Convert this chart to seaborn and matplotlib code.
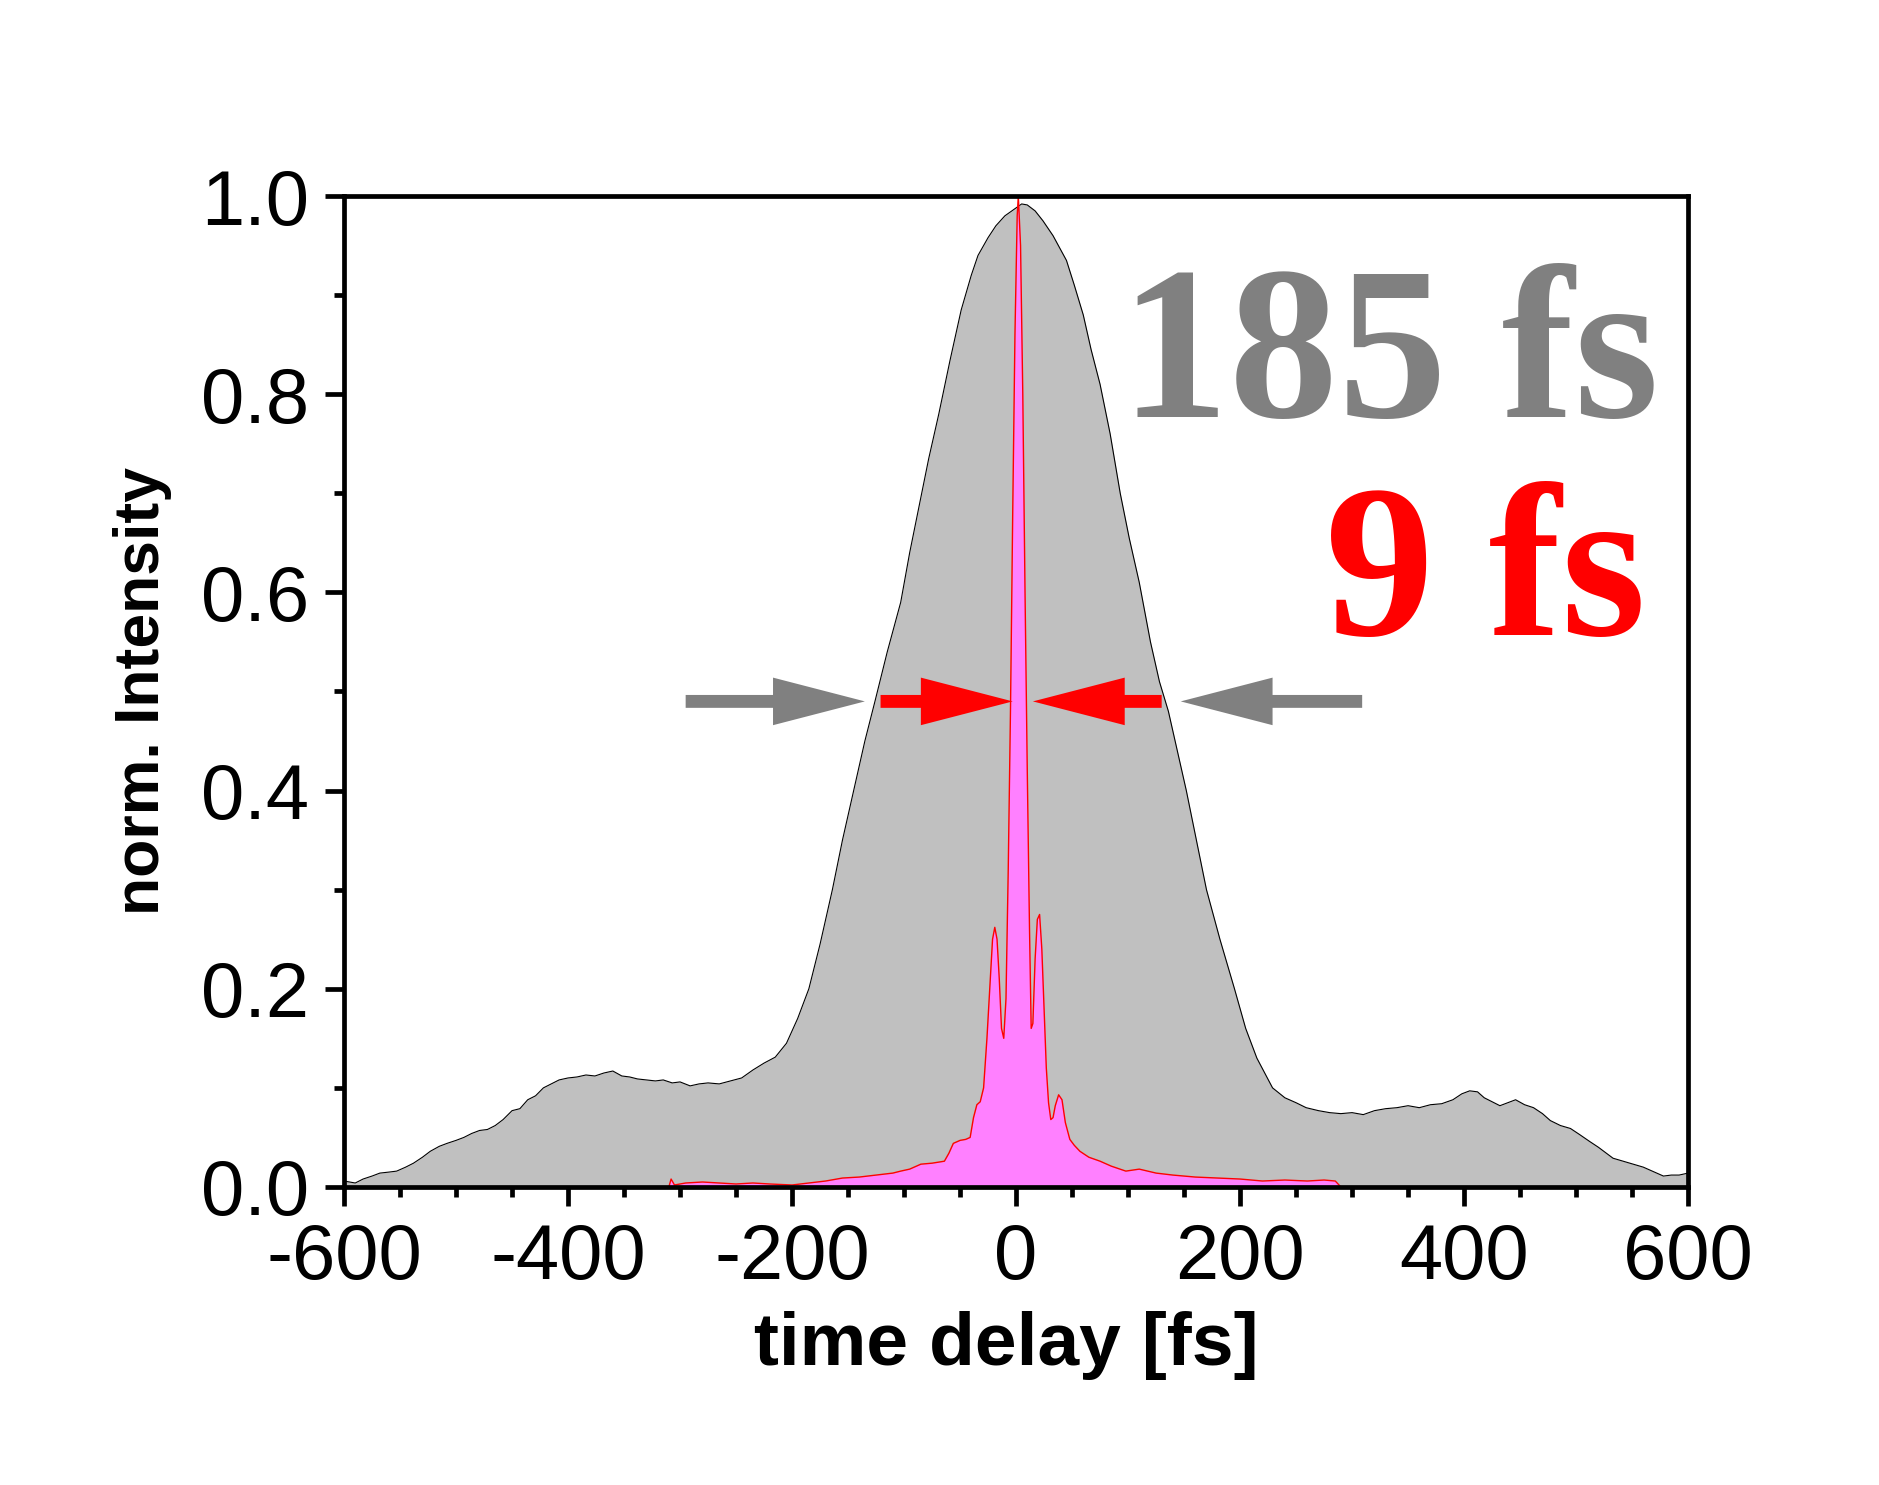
"""
Autocorrelation traces: long pulse (185 fs) vs compressed pulse (9 fs).
"""
import matplotlib
matplotlib.use("Agg")
import matplotlib.pyplot as plt
import seaborn as sns
from matplotlib import ticker

# long pulse trace (gray)
gray_t = [-600, -590, -583, -575, -568, -560, -553, -545, -538, -530, -523, -515, -508, -500,
          -493, -486, -479, -472, -465, -458, -450, -443, -436, -429, -422, -415, -408, -400,
          -392, -384, -376, -368, -360, -352, -345, -338, -330, -322, -315, -307, -300, -291,
          -283, -275, -265, -255, -245, -235, -225, -215, -205, -195, -185, -175, -164, -155,
          -145, -135, -126, -115, -103, -95, -86, -78, -69, -59, -49, -40, -34, -25, -18, -10,
          0, 5, 10, 17, 24, 33, 45, 52, 60, 67, 75, 84, 93, 101, 110, 120, 128, 136, 144, 152,
          161, 170, 182, 195, 205, 215, 229, 240, 250, 259, 270, 280, 290, 300, 310, 320, 330,
          340, 350, 360, 370, 380, 390, 398, 405, 412, 418, 425, 432, 439, 446, 454, 462, 470,
          477, 486, 495, 503, 512, 520, 533, 542, 551, 560, 570, 578, 585, 592, 600]
gray_y = [0.006, 0.004, 0.008, 0.011, 0.014, 0.015, 0.016, 0.020, 0.024, 0.030, 0.036, 0.041,
          0.044, 0.047, 0.050, 0.054, 0.057, 0.058, 0.062, 0.068, 0.077, 0.079, 0.088, 0.092,
          0.100, 0.104, 0.108, 0.110, 0.111, 0.113, 0.112, 0.115, 0.117, 0.112, 0.111, 0.109,
          0.108, 0.107, 0.108, 0.105, 0.106, 0.102, 0.104, 0.105, 0.104, 0.107, 0.110, 0.118,
          0.125, 0.131, 0.145, 0.170, 0.200, 0.245, 0.300, 0.350, 0.400, 0.450, 0.490, 0.540,
          0.590, 0.640, 0.690, 0.735, 0.780, 0.834, 0.885, 0.920, 0.940, 0.958, 0.970, 0.980,
          0.988, 0.992, 0.991, 0.985, 0.975, 0.960, 0.935, 0.910, 0.880, 0.845, 0.810, 0.760,
          0.700, 0.655, 0.610, 0.550, 0.510, 0.480, 0.440, 0.400, 0.350, 0.300, 0.250, 0.200,
          0.160, 0.130, 0.100, 0.090, 0.085, 0.080, 0.077, 0.075, 0.074, 0.075, 0.073, 0.077,
          0.079, 0.080, 0.082, 0.080, 0.083, 0.084, 0.088, 0.094, 0.097, 0.096, 0.090, 0.086,
          0.082, 0.085, 0.088, 0.083, 0.080, 0.074, 0.067, 0.062, 0.059, 0.053, 0.046, 0.040,
          0.029, 0.026, 0.023, 0.020, 0.015, 0.011, 0.012, 0.012, 0.014]

# compressed pulse trace (magenta)
pink_t = [-310, -308, -305, -295, -280, -265, -250, -235, -220, -200, -185, -170, -155, -140,
          -125, -110, -103, -95, -85, -75, -64, -60, -56, -50, -45, -41, -38, -35, -32, -29,
          -26, -23, -21, -19, -17, -15, -13, -11, -9, -7, -5, -3, -1, 1, 2, 4, 6, 8, 10, 12,
          13.5, 15, 17, 19, 21, 23, 25, 27, 29, 31, 33, 35, 38, 41, 44, 48, 52, 57, 65, 75, 85,
          98, 110, 125, 140, 160, 180, 200, 220, 240, 260, 275, 285, 290]
pink_y = [0.0, 0.008, 0.002, 0.004, 0.005, 0.004, 0.003, 0.004, 0.003, 0.002, 0.004, 0.006,
          0.009, 0.010, 0.012, 0.014, 0.016, 0.018, 0.023, 0.024, 0.026, 0.034, 0.044, 0.047,
          0.048, 0.050, 0.070, 0.083, 0.086, 0.100, 0.150, 0.210, 0.250, 0.262, 0.250, 0.210,
          0.160, 0.150, 0.190, 0.320, 0.480, 0.680, 0.860, 0.980, 1.000, 0.950, 0.800, 0.600,
          0.420, 0.260, 0.160, 0.165, 0.230, 0.270, 0.275, 0.240, 0.180, 0.120, 0.085, 0.068,
          0.070, 0.082, 0.093, 0.088, 0.065, 0.048, 0.042, 0.036, 0.030, 0.026, 0.021, 0.016,
          0.018, 0.014, 0.012, 0.010, 0.009, 0.008, 0.006, 0.007, 0.006, 0.007, 0.006, 0.0]

# FWHM markers: (tail, tip) in fs at half height
arrow_y = 0.49
gray_arrows = [(-295, -135), (309, 147)]
red_arrows = [(-121, -3), (130, 15)]
labels = ["185 fs", "9 fs"]

sns.set_theme(style="ticks")
plt.rcParams["font.family"] = ["Liberation Sans", "DejaVu Sans"]
plt.rcParams.update({"text.color": "black", "axes.labelcolor": "black",
                     "xtick.color": "black", "ytick.color": "black"})

fig = plt.figure(figsize=(18.79, 14.85), dpi=100)
ax = fig.add_axes([0.1831, 0.2007, 0.7153, 0.6673])

ax.fill_between(gray_t, 0, gray_y, color="#C0C0C0", lw=0, zorder=1)
sns.lineplot(x=gray_t, y=gray_y, ax=ax, color="black", lw=0.8, zorder=2)
ax.fill_between(pink_t, 0, pink_y, color="#FF80FF", lw=0, zorder=3)
sns.lineplot(x=pink_t, y=pink_y, ax=ax, color="#FF0000", lw=1.0, zorder=4)

for (x0, x1) in gray_arrows:
    ax.arrow(x0, arrow_y, x1 - x0, 0, width=0.013, head_width=0.048, head_length=82,
             length_includes_head=True, color="#808080", lw=0, zorder=5)
for (x0, x1) in red_arrows:
    ax.arrow(x0, arrow_y, x1 - x0, 0, width=0.013, head_width=0.048, head_length=82,
             length_includes_head=True, color="#FF0000", lw=0, zorder=5)

ax.text(574, 0.777, labels[0], ha="right", va="baseline", fontsize=157,
        family="Liberation Serif", fontweight="bold", color="#808080", zorder=6)
ax.text(562, 0.557, labels[1], ha="right", va="baseline", fontsize=157,
        family="Liberation Serif", fontweight="bold", color="#FF0000", zorder=6)

ax.set_xlim(-600, 600)
ax.set_ylim(0, 1.0)
ax.xaxis.set_major_locator(ticker.MultipleLocator(200))
ax.xaxis.set_minor_locator(ticker.MultipleLocator(50))
ax.yaxis.set_major_locator(ticker.MultipleLocator(0.2))
ax.yaxis.set_minor_locator(ticker.MultipleLocator(0.1))
ax.yaxis.set_major_formatter(ticker.FormatStrFormatter("%.1f"))
ax.xaxis.set_major_formatter(ticker.FuncFormatter(lambda v, p: f"{v:.0f}"))

for s in ax.spines.values():
    s.set_linewidth(3.4)
    s.set_color("black")
    s.set_zorder(7)
ax.tick_params(which="major", direction="out", length=14, width=3.4, color="black",
               labelcolor="black", labelsize=56, pad=11, top=False, right=False)
ax.tick_params(which="minor", direction="out", length=7.5, width=3.4, color="black",
               top=False, right=False)

ax.set_xlabel("time delay [fs]", fontsize=54, fontweight="bold", color="black")
ax.set_ylabel("norm. Intensity", fontsize=45, fontweight="bold", color="black")
ax.xaxis.set_label_coords(0.493, -0.125)
ax.yaxis.set_label_coords(-0.128, 0.5)
ax.grid(False)

fig.savefig("out.png", dpi=100, facecolor="white")
